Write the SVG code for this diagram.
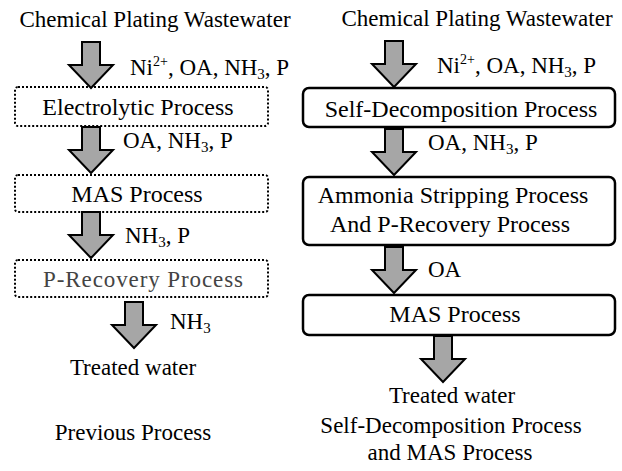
<svg xmlns="http://www.w3.org/2000/svg" width="622" height="471" viewBox="0 0 622 471">
<style>
text{font-size:23px;fill:#000;font-family:"Liberation Serif","Times New Roman",serif}
.m{text-anchor:middle}
.b{font-size:24px}
.sub{font-size:15px}
.sup{font-size:14px}
.dot{fill:#fff;stroke:#000;stroke-width:2;stroke-dasharray:2 2}
.solid{fill:#fff;stroke:#000;stroke-width:2.5}
.arr{fill:#a6a6a6;stroke:#000;stroke-width:2;stroke-linejoin:miter}
.grey{fill:#444}
</style>
<defs>
<path id="arrow" class="arr" d="M -9 -46 L 9 -46 L 9 -23 L 22 -23 L 0 0 L -22 -23 L -9 -23 Z"/>
</defs>
<text class="m" x="155" y="27">Chemical Plating Wastewater</text>
<text class="m" x="477" y="26">Chemical Plating Wastewater</text>
<g id="electrolytic"><rect class="dot" x="15" y="87" width="253" height="39" rx="3"/><text class="m b" x="138" y="115">Electrolytic Process</text></g>
<g id="mas-left"><rect class="dot" x="15" y="175" width="253" height="37" rx="3"/><text class="m b" x="137" y="202">MAS Process</text></g>
<g id="precovery"><rect class="dot" x="15" y="260" width="253" height="37" rx="3"/><text class="m grey" x="143" y="287" textLength="200">P-Recovery Process</text></g>
<g id="selfdecomp"><rect class="solid" x="303" y="88" width="312" height="39" rx="6"/><text class="m b" x="461" y="117">Self-Decomposition Process</text></g>
<g id="ammonia"><rect class="solid" x="303" y="177" width="312" height="68" rx="6"/><text class="m b" x="453" y="203">Ammonia Stripping Process</text><text class="m b" x="450" y="232">And P-Recovery Process</text></g>
<g id="mas-right"><rect class="solid" x="303" y="295" width="312" height="40" rx="6"/><text class="m b" x="455" y="322">MAS Process</text></g>
<g id="connectors">
<use href="#arrow" transform="translate(91,88)"/>
<use href="#arrow" transform="translate(91,173)"/>
<use href="#arrow" transform="translate(91,258)"/>
<use href="#arrow" transform="translate(134,348)"/>
<use href="#arrow" transform="translate(394,87)"/>
<use href="#arrow" transform="translate(394,175)"/>
<use href="#arrow" transform="translate(394,293)"/>
<use href="#arrow" transform="translate(443,382)"/>
</g>
<text x="130" y="75">Ni<tspan class="sup" dy="-9">2+</tspan><tspan dy="9">, OA, NH</tspan><tspan class="sub" dy="4">3</tspan><tspan dy="-4">, P</tspan></text>
<text x="123" y="148">OA, NH<tspan class="sub" dy="4">3</tspan><tspan dy="-4">, P</tspan></text>
<text x="125" y="243">NH<tspan class="sub" dy="4">3</tspan><tspan dy="-4">, P</tspan></text>
<text x="170" y="329">NH<tspan class="sub" dy="4">3</tspan></text>
<text x="437" y="73">Ni<tspan class="sup" dy="-9">2+</tspan><tspan dy="9">, OA, NH</tspan><tspan class="sub" dy="4">3</tspan><tspan dy="-4">, P</tspan></text>
<text x="428" y="150">OA, NH<tspan class="sub" dy="4">3</tspan><tspan dy="-4">, P</tspan></text>
<text x="428" y="277">OA</text>
<text class="m" x="133" y="375">Treated water</text>
<text class="m" x="133" y="440">Previous Process</text>
<text class="m" x="452" y="403">Treated water</text>
<text class="m" x="451" y="433">Self-Decomposition Process</text>
<text class="m" x="450" y="460">and MAS Process</text>
</svg>
